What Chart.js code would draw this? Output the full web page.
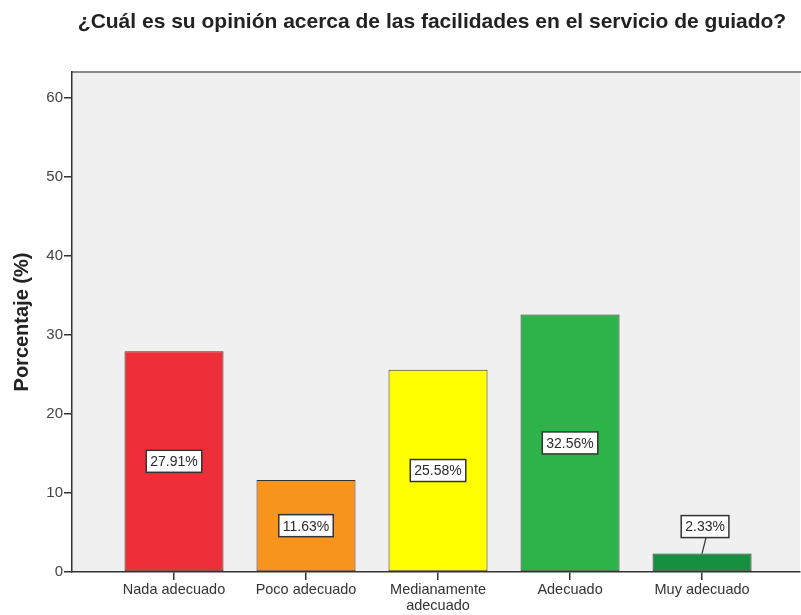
<!DOCTYPE html>
<html lang="es">
<head>
  <meta charset="UTF-8">
  <title>Facilidades en el servicio de guiado</title>
  <script src="https://cdn.jsdelivr.net/npm/chart.js"></script>
  <style>
    body { margin: 0; background: #ffffff; }
    #wrap { width: 801px; height: 615px; }
  </style>
</head>
<body>
  <div id="wrap"><canvas id="guiadoChart" width="801" height="615"></canvas></div>
  <script>
    var chartTitle = '¿Cuál es su opinión acerca de las facilidades en el servicio de guiado?';
    var categories = ['Nada adecuado', 'Poco adecuado', 'Medianamente adecuado', 'Adecuado', 'Muy adecuado'];
    var percentages = [27.91, 11.63, 25.58, 32.56, 2.33];
    var yTicks = [0, 10, 20, 30, 40, 50, 60];
    var barColors = ['#ee2e38', '#f7941d', '#ffff00', '#2db34a', '#178f41'];

    var fontFamily = '"Liberation Sans", Arial, sans-serif';

    var points = percentages.map(function (v, i) {
      return { x: i, y: v };
    });

    // plot background, title, and the boxed value labels
    var decorations = {
      id: 'decorations',
      beforeDraw: function (chart) {
        var ctx = chart.ctx;
        var a = chart.chartArea;
        ctx.save();
        ctx.fillStyle = '#f0f0f0';
        ctx.fillRect(a.left, a.top, a.right - a.left, a.bottom - a.top);
        ctx.strokeStyle = '#8a8a8a';
        ctx.lineWidth = 2;
        ctx.beginPath();
        ctx.moveTo(a.left, a.top);
        ctx.lineTo(a.right + 2, a.top);
        ctx.stroke();
        ctx.restore();
      },
      afterDraw: function (chart) {
        var ctx = chart.ctx;
        var a = chart.chartArea;
        ctx.save();
        ctx.fillStyle = '#222222';
        ctx.font = 'bold 21px ' + fontFamily;
        ctx.textAlign = 'center';
        ctx.textBaseline = 'middle';
        ctx.fillText(chartTitle, (a.left + a.right) / 2 - 4, 22);

        ctx.font = '14px ' + fontFamily;
        var meta = chart.getDatasetMeta(0);
        meta.data.forEach(function (bar, i) {
          var text = percentages[i].toFixed(2) + '%';
          var w = ctx.measureText(text).width + 8;
          var h = 22;
          var barH = bar.base - bar.y;
          var cx = bar.x;
          var cy = (bar.y + bar.base) / 2;
          var outside = barH < h + 10;
          if (outside) {
            cy = bar.y - 27;
            cx = bar.x + 3;
            ctx.strokeStyle = '#333333';
            ctx.lineWidth = 1.2;
            ctx.beginPath();
            ctx.moveTo(cx + 1, cy + h / 2);
            ctx.lineTo(bar.x, bar.y);
            ctx.stroke();
          }
          ctx.fillStyle = '#ffffff';
          ctx.fillRect(cx - w / 2, cy - h / 2, w, h);
          ctx.strokeStyle = '#333333';
          ctx.lineWidth = 1.5;
          ctx.strokeRect(cx - w / 2, cy - h / 2, w, h);
          ctx.fillStyle = '#2a2a2a';
          ctx.fillText(text, cx, cy + 1);
        });
        ctx.restore();
      }
    };

    new Chart(document.getElementById('guiadoChart'), {
      type: 'bar',
      data: {
        datasets: [{
          data: points,
          backgroundColor: barColors,
          borderColor: '#3a3228',
          borderWidth: 1,
          borderSkipped: false,
          barPercentage: 0.75,
          categoryPercentage: 1
        }]
      },
      plugins: [decorations],
      options: {
        responsive: false,
        animation: false,
        layout: { padding: { top: 72, left: 0, right: 1, bottom: 0 } },
        plugins: {
          legend: { display: false },
          tooltip: { enabled: false }
        },
        scales: {
          x: {
            type: 'linear',
            offset: false,
            min: -0.7727,
            max: 4.742,
            afterBuildTicks: function (scale) {
              scale.ticks = categories.map(function (c, i) { return { value: i }; });
            },
            afterFit: function (scale) { scale.height = 43; },
            grid: { offset: false, drawOnChartArea: false, drawTicks: true, tickLength: 8, color: '#333333', lineWidth: 1.5 },
            border: { display: true, color: '#333333', width: 1.5 },
            ticks: {
              autoSkip: false,
              maxRotation: 0,
              padding: 2,
              color: '#333333',
              font: { family: fontFamily, size: 14.5, lineHeight: 1.1 },
              callback: function (value) {
                var name = categories[value];
                if (name === 'Medianamente adecuado') return ['Medianamente', 'adecuado'];
                return name;
              }
            }
          },
          y: {
            min: 0,
            max: 63.25,
            afterBuildTicks: function (scale) {
              scale.ticks = yTicks.map(function (v) { return { value: v }; });
            },
            afterFit: function (scale) { scale.width = 72; },
            grid: { drawOnChartArea: false, drawTicks: true, tickLength: 8, color: '#333333', lineWidth: 1.5 },
            border: { display: true, color: '#333333', width: 1.5 },
            ticks: {
              padding: 1,
              color: '#444444',
              font: { family: fontFamily, size: 15 }
            },
            title: {
              display: true,
              text: 'Porcentaje (%)',
              color: '#222222',
              padding: { top: 10, bottom: 0 },
              font: { family: fontFamily, size: 20, weight: 'bold' }
            }
          }
        }
      }
    });
  </script>
</body>
</html>
